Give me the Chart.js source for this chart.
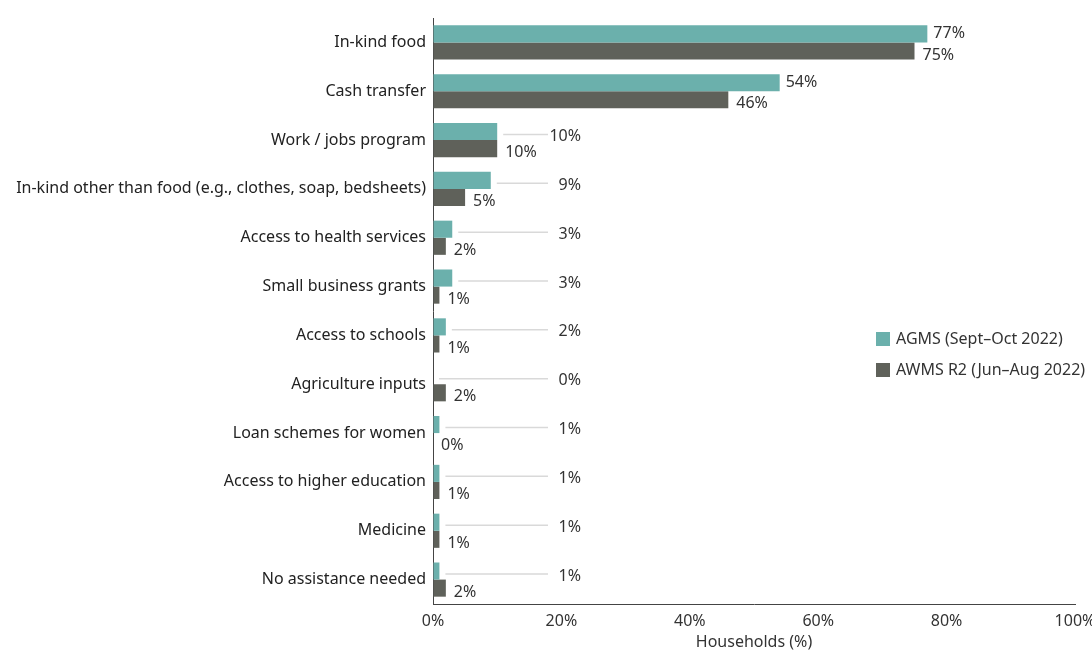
<!DOCTYPE html>
<html>
<head>
<meta charset="utf-8">
<script src="https://cdn.jsdelivr.net/npm/chart.js@4"></script>
<style>
  html, body { margin: 0; padding: 0; background: #fff; }
  #wrap { width: 1092px; height: 652px; }
</style>
</head>
<body>
<div id="wrap"><canvas id="myChart"></canvas></div>
<script>
const categories = [
    "In-kind food",
    "Cash transfer",
    "Work / jobs program",
    "In-kind other than food (e.g., clothes, soap, bedsheets)",
    "Access to health services",
    "Small business grants",
    "Access to schools",
    "Agriculture inputs",
    "Loan schemes for women",
    "Access to higher education",
    "Medicine",
    "No assistance needed"
];
const agms = [77, 54, 10, 9, 3, 3, 2, 0, 1, 1, 1, 1];
const awms = [75, 46, 10, 5, 2, 1, 1, 2, 0, 1, 1, 2];
const seriesNames = ["AGMS (Sept\u2013Oct 2022)", "AWMS R2 (Jun\u2013Aug 2022)"];
const xTicks = [0, 20, 40, 60, 80, 100];

const FONT = "'Noto Sans', Lato, sans-serif";
const TEAL = "#6bb0ac";
const GREY = "#5f615a";

// value labels: small AGMS values get pushed out with a leader line
const valueLabels = {
    id: "valueLabels",
    afterDatasetsDraw(chart) {
        const ctx = chart.ctx;
        ctx.save();
        ctx.font = "16px " + FONT;
        ctx.fillStyle = "#333";
        ctx.textBaseline = "middle";
        chart.data.datasets.forEach((ds, di) => {
            const meta = chart.getDatasetMeta(di);
            meta.data.forEach((bar, i) => {
                const v = ds.data[i];
                const txt = v + "%";
                if (di === 0 && v < 20) {
                    ctx.strokeStyle = "#d9d9d9";
                    ctx.lineWidth = 1.5;
                    ctx.beginPath();
                    ctx.moveTo(bar.x + 6, bar.y + 3);
                    ctx.lineTo(548, bar.y + 3);
                    ctx.stroke();
                    ctx.textAlign = "right";
                    ctx.fillText(txt, 581, bar.y + 5);
                } else {
                    ctx.textAlign = "left";
                    ctx.fillText(txt, bar.x + (di === 0 ? 6 : 8), bar.y + (di === 0 ? 0 : 4));
                }
            });
        });
        ctx.restore();
    }
};

const sideLegend = {
    id: "sideLegend",
    afterDraw(chart) {
        const ctx = chart.ctx;
        ctx.save();
        ctx.font = "16px " + FONT;
        ctx.textBaseline = "middle";
        ctx.textAlign = "left";
        [TEAL, GREY].forEach((c, i) => {
            const y = 339 + i * 31;
            ctx.fillStyle = c;
            ctx.fillRect(876, y - 7, 14, 14);
            ctx.fillStyle = "#333";
            ctx.fillText(seriesNames[i], 896, y);
        });
        ctx.restore();
    }
};

new Chart(document.getElementById("myChart"), {
    type: "bar",
    data: {
        labels: categories,
        datasets: [
            { label: seriesNames[0], data: agms, backgroundColor: TEAL },
            { label: seriesNames[1], data: awms, backgroundColor: GREY }
        ]
    },
    options: {
        indexAxis: "y",
        responsive: true,
        maintainAspectRatio: false,
        animation: false,
        layout: { padding: { top: 18, right: 17, bottom: 0, left: 0 } },
        datasets: { bar: { categoryPercentage: 0.7, barPercentage: 1.0 } },
        plugins: {
            legend: { display: false },
            tooltip: { enabled: false }
        },
        scales: {
            x: {
                min: 0,
                max: 100,
                afterBuildTicks(scale) { scale.ticks = xTicks.map(v => ({ value: v })); },
                afterFit(scale) {
                    scale.height = 48;
                    scale.paddingLeft = 0;
                    scale.paddingRight = 0;
                },
                grid: { color: "transparent", drawTicks: false },
                border: { display: true, color: "#444", width: 1 },
                ticks: {
                    padding: 8,
                    color: "#333",
                    font: { family: FONT, size: 16 },
                    callback: v => v + "%"
                },
                title: {
                    display: true,
                    text: "Households (%)",
                    color: "#333",
                    font: { family: FONT, size: 16 },
                    padding: { top: 0, bottom: 0 }
                }
            },
            y: {
                afterFit(scale) { scale.width = 433; },
                grid: { color: "transparent", drawTicks: false },
                border: { display: true, color: "#444", width: 1 },
                ticks: {
                    padding: 7,
                    color: "#222",
                    autoSkip: false,
                    font: { family: FONT, size: 16 }
                }
            }
        }
    },
    plugins: [valueLabels, sideLegend]
});
</script>
</body>
</html>
